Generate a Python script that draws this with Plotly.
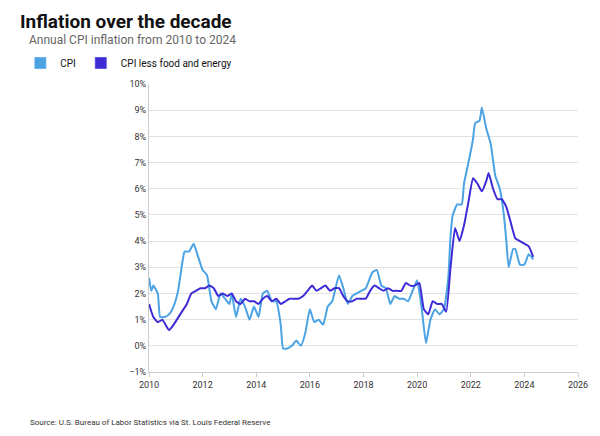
import plotly.graph_objects as go
import pandas as pd

cpi_dates = ['2010-01','2010-02','2010-03','2010-05','2010-06','2010-08','2010-10','2010-12','2011-02','2011-04','2011-05','2011-07','2011-09','2011-11','2012-01','2012-03','2012-05','2012-07','2012-09','2012-11','2013-01','2013-02','2013-04','2013-06','2013-08','2013-10','2013-12','2014-02','2014-04','2014-06','2014-08','2014-10','2014-12','2015-01','2015-03','2015-05','2015-07','2015-09','2015-11','2016-01','2016-03','2016-05','2016-07','2016-09','2016-11','2017-02','2017-04','2017-06','2017-08','2017-10','2017-12','2018-02','2018-05','2018-07','2018-09','2018-11','2019-01','2019-03','2019-05','2019-07','2019-09','2019-11','2020-01','2020-03','2020-05','2020-07','2020-09','2020-11','2021-01','2021-03','2021-04','2021-05','2021-07','2021-09','2021-10','2021-12','2022-02','2022-03','2022-05','2022-06','2022-08','2022-10','2022-12','2023-02','2023-04','2023-05','2023-06','2023-08','2023-09','2023-11','2024-01','2024-03','2024-05']
cpi_vals = [2.6,2.1,2.3,2.0,1.1,1.1,1.2,1.5,2.1,3.2,3.6,3.6,3.9,3.4,2.9,2.7,1.7,1.4,2.0,1.8,1.6,2.0,1.1,1.8,1.5,1.0,1.5,1.1,2.0,2.1,1.7,1.7,0.8,-0.1,-0.1,0.0,0.2,0.0,0.5,1.4,0.9,1.0,0.8,1.5,1.7,2.7,2.2,1.6,1.9,2.0,2.1,2.2,2.8,2.9,2.3,2.2,1.6,1.9,1.8,1.8,1.7,2.1,2.5,1.5,0.1,1.0,1.4,1.2,1.4,2.6,4.2,5.0,5.4,5.4,6.2,7.0,7.9,8.5,8.6,9.1,8.3,7.7,6.5,6.0,4.9,4.0,3.0,3.7,3.7,3.1,3.1,3.5,3.3]

core_dates = ['2010-01','2010-03','2010-05','2010-07','2010-10','2010-12','2011-03','2011-06','2011-08','2011-10','2011-12','2012-02','2012-04','2012-06','2012-08','2012-10','2012-12','2013-02','2013-04','2013-06','2013-08','2013-10','2013-12','2014-02','2014-04','2014-06','2014-08','2014-10','2014-12','2015-02','2015-04','2015-06','2015-08','2015-10','2015-12','2016-02','2016-04','2016-06','2016-08','2016-10','2016-12','2017-02','2017-04','2017-06','2017-08','2017-10','2017-12','2018-02','2018-04','2018-06','2018-08','2018-10','2018-12','2019-02','2019-04','2019-06','2019-08','2019-10','2019-12','2020-02','2020-04','2020-06','2020-08','2020-10','2020-12','2021-02','2021-04','2021-06','2021-08','2021-10','2021-12','2022-02','2022-04','2022-06','2022-08','2022-09','2022-11','2023-01','2023-03','2023-05','2023-07','2023-09','2023-11','2024-01','2024-03','2024-05']
core_vals = [1.6,1.1,0.9,1.0,0.6,0.8,1.2,1.6,2.0,2.1,2.2,2.2,2.3,2.2,1.9,2.0,1.9,2.0,1.7,1.6,1.8,1.7,1.7,1.6,1.8,1.9,1.7,1.8,1.6,1.7,1.8,1.8,1.8,1.9,2.1,2.3,2.1,2.2,2.3,2.1,2.2,2.2,1.9,1.7,1.7,1.8,1.8,1.8,2.1,2.3,2.2,2.1,2.2,2.1,2.1,2.1,2.4,2.3,2.3,2.4,1.4,1.2,1.7,1.6,1.6,1.3,3.0,4.5,4.0,4.6,5.5,6.4,6.2,5.9,6.3,6.6,6.0,5.6,5.6,5.3,4.7,4.1,4.0,3.9,3.8,3.4]

names = ['CPI', 'CPI less food and energy']
colors = ['#4ba3e3', '#3d2bd6']

fig = go.Figure()
for nm, c, d, v in zip(names, colors, [cpi_dates, core_dates], [cpi_vals, core_vals]):
    fig.add_trace(go.Scatter(x=pd.to_datetime(d), y=v, mode='lines', name=nm,
                             line=dict(color=c, width=2, shape='spline', smoothing=0.4),
                             showlegend=False))
    # square swatch for the legend
    fig.add_trace(go.Bar(x=[None], y=[None], name=nm, marker_color=c, showlegend=True))

fig.update_layout(
    width=600, height=436, plot_bgcolor='white', paper_bgcolor='white',
    margin=dict(l=135, r=30, t=76, b=72),
    font=dict(family='Roboto', size=9, color='#333'),
    title=dict(text='<b>Inflation over the decade</b>', x=0.02, xanchor='left',
               y=0.985, yanchor='top', font=dict(family='Roboto', size=19, color='#111')),
    showlegend=True,
    legend=dict(orientation='h', x=-0.3, xanchor='left', y=1.073, yanchor='middle',
                font=dict(size=10, color='#111'), itemwidth=30, traceorder='normal',
                bgcolor='rgba(0,0,0,0)'),
)
fig.add_annotation(text='Annual CPI inflation from 2010 to 2024', xref='paper', yref='paper',
                   x=-0.285, y=1.185, xanchor='left', yanchor='top', showarrow=False,
                   font=dict(size=12, color='#666'))
fig.add_annotation(text='Source: U.S. Bureau of Labor Statistics via St. Louis Federal Reserve',
                   xref='paper', yref='paper', x=-0.283, y=-0.177, xanchor='left', yanchor='middle',
                   showarrow=False, font=dict(size=8, color='#333'))

fig.update_xaxes(range=['2010-01-01', '2026-01-01'], dtick='M24', tickformat='%Y',
                 showgrid=False, showline=True, linecolor='#ccc', ticks='outside',
                 ticklen=4, tickcolor='#ccc', tickfont=dict(size=9, color='#333'))
fig.update_yaxes(range=[-1, 10], dtick=1, ticksuffix='%', showgrid=True, gridcolor='#e3e3e3',
                 zeroline=False, showline=True, linecolor='#ccc', tickfont=dict(size=9, color='#333'))

fig.write_html("out.html")
